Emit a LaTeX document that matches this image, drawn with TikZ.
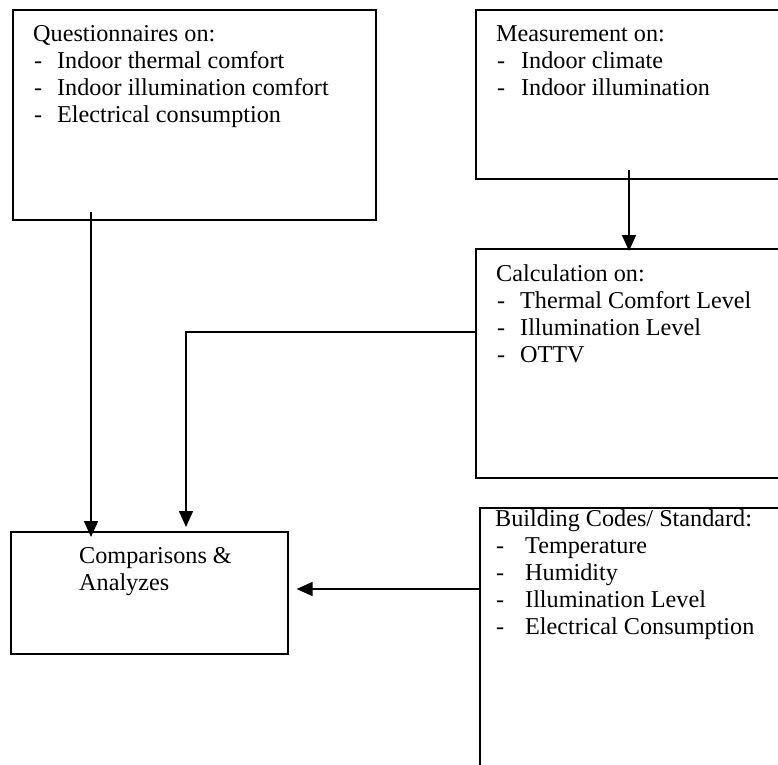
\documentclass[tikz,border=0pt]{standalone}
\usepackage{fontspec}
\setmainfont{Liberation Serif}
\usetikzlibrary{arrows.meta,calc}
\newcommand\dashline[2]{\makebox[#1][l]{\hspace*{1pt}-}#2}
\begin{document}
\begin{tikzpicture}[x=1pt,y=-1pt,
 box/.style={draw,line width=1.6pt,rectangle,anchor=north west,inner sep=0pt},
 txt/.style={anchor=base west,inner sep=0pt,font=\fontsize{24.2}{27}\selectfont},
 arr/.style={line width=1.6pt,-{Triangle[length=16pt,width=14pt]}}]
\useasboundingbox (0,0) rectangle (778,764);
\clip (0,0) rectangle (778,764);
% boxes
\node[box,minimum width=363pt,minimum height=210pt] (q) at (12,9) {};
\node[box,minimum width=325pt,minimum height=169pt] (m) at (475,9) {};
\node[box,minimum width=325pt,minimum height=229pt] (c) at (475,248) {};
\node[box,minimum width=277pt,minimum height=122pt] (a) at (10,531) {};
\node[box,minimum width=321pt,minimum height=300pt] (b) at (479,507) {};
% texts
\node[txt] (qt) at (33,41) {\begin{tabular}[t]{@{}l@{}}Questionnaires on:\\
\dashline{24pt}{Indoor thermal comfort}\\
\dashline{24pt}{Indoor illumination comfort}\\
\dashline{24pt}{Electrical consumption}\end{tabular}};
\node[txt] (mt) at (496,41) {\begin{tabular}[t]{@{}l@{}}Measurement on:\\
\dashline{25pt}{Indoor climate}\\
\dashline{25pt}{Indoor illumination}\end{tabular}};
\node[txt] (ct) at (496,281) {\begin{tabular}[t]{@{}l@{}}Calculation on:\\
\dashline{24pt}{Thermal Comfort Level}\\
\dashline{24pt}{Illumination Level}\\
\dashline{24pt}{OTTV}\end{tabular}};
\node[txt] (at) at (79,563) {\begin{tabular}[t]{@{}l@{}}Comparisons \&\\ Analyzes\end{tabular}};
\node[txt] (bt) at (495,526) {\begin{tabular}[t]{@{}l@{}}Building Codes/ Standard:\\
\dashline{30pt}{Temperature}\\
\dashline{30pt}{Humidity}\\
\dashline{30pt}{Illumination Level}\\
\dashline{30pt}{Electrical Consumption}\end{tabular}};
% connectors
\coordinate (q1) at ([xshift=79pt,yshift=9pt]q.south west);
\coordinate (a1) at ([xshift=81pt,yshift=-6pt]a.north west);
\draw[arr] (q1) -- (a1);
\coordinate (m1) at ([xshift=154pt,yshift=10pt]m.south west);
\coordinate (c1) at ([xshift=154pt,yshift=-3pt]c.north west);
\draw[arr] (m1) -- (c1);
\coordinate (c2) at ([yshift=-84pt]c.north west);
\coordinate (a2) at ([xshift=176pt,yshift=4pt]a.north west);
\draw[arr] (c2) -| (a2);
\coordinate (b1) at ([yshift=-82pt]b.north west);
\draw[arr] (b1) -- ($(b1 -| a.east)+(8,0)$);
\end{tikzpicture}
\end{document}
